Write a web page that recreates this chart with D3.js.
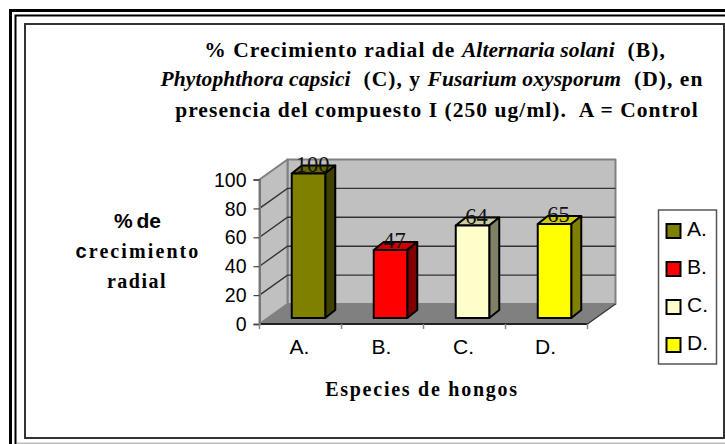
<!DOCTYPE html>
<html><head><meta charset="utf-8">
<style>
html,body{margin:0;padding:0;background:#fff;overflow:hidden}
svg{display:block}
.ser{font-family:"Liberation Serif",serif}
.san{font-family:"Liberation Sans",Arial,sans-serif}
</style>
<script src="https://cdnjs.cloudflare.com/ajax/libs/d3/7.8.5/d3.min.js"></script>
</head><body>
<script>
const categories = ["A.","B.","C.","D."];
const values = [100,47,64,65];
const yTicks = [0,20,40,60,80,100];
const frontColors = ["#808000","#ff0000","#ffffcc","#ffff00"];
const topColors = ["#666600","#cc0000","#cccca3","#cccc00"];
const sideColors = ["#404000","#800000","#808066","#808000"];
const titleLines = [
  [["% ",0],["Crecimiento radial de ",0],["Alternaria solani",1],["  (B),",0]],
  [["Phytophthora capsici",1],["  (C), y ",0],["Fusarium oxysporum",1],["  (D), en",0]],
  [["presencia del compuesto I (250 ug/ml).  A = Control",0]]
];
const yTitle = ["% de","crecimiento","radial"];
const xTitle = "Especies de hongos";

const W=725,H=444;
const svg=d3.select("body").append("svg").attr("width",W).attr("height",H);

// frame
function rect(x0,y0,x1,y1,c,w){svg.append("rect").attr("x",x0).attr("y",y0).attr("width",x1-x0).attr("height",y1-y0).attr("fill","none").attr("stroke",c).attr("stroke-width",w);}
rect(10.5,10.5,800,800,"#000",3);
rect(15.5,15.5,800,800,"#000",2);
svg.append("line").attr("x1",17).attr("x2",W).attr("y1",443.5).attr("y2",443.5).attr("stroke","#bbb").attr("stroke-width",2);
rect(25,24,724,438,"#333",2);

// scales
const x=d3.scaleBand().domain(categories).range([259.5,587.5]);
const y=d3.scaleLinear().domain([0,100]).range([324,179.5]);
const dx=28,dy=-20;
const g=svg.append("g");
const poly=(pts,fill,stroke,sw)=>g.append("polygon").attr("points",pts.map(p=>p.join(",")).join(" ")).attr("fill",fill).attr("stroke",stroke||"none").attr("stroke-width",sw||0).attr("stroke-linejoin","round");
const xL=x.range()[0],xR=x.range()[1],y0=y(0),y100=y(100);

// walls
poly([[xL+dx,y100+dy],[xR+dx,y100+dy],[xR+dx,y0+dy],[xL+dx,y0+dy]],"#c0c0c0","#808080",2);
poly([[xL,y100],[xL+dx,y100+dy],[xL+dx,y0+dy],[xL,y0]],"#c0c0c0","#808080",2);
poly([[xL,y0],[xL+dx,y0+dy],[xR+dx,y0+dy],[xR,y0]],"#808080","none");
// grid
yTicks.filter(d=>d>0&&d<100).forEach(d=>{
  g.append("path").attr("d",`M${xL},${y(d)}L${xL+dx},${y(d)+dy}L${xR+dx},${y(d)+dy}`).attr("fill","none").attr("stroke","#333").attr("stroke-width",1.4);
});
g.append("line").attr("x1",xR).attr("y1",y0).attr("x2",xR+dx).attr("y2",y0+dy).attr("stroke","#333").attr("stroke-width",1.2);
g.append("line").attr("x1",xL).attr("y1",y0).attr("x2",xR).attr("y2",y0).attr("stroke","#222").attr("stroke-width",2);

// axes
const ya=svg.append("g").attr("transform",`translate(${xL},0)`).call(d3.axisLeft(y).tickValues(yTicks).tickSize(6).tickPadding(7));
ya.select(".domain").attr("stroke","#777").attr("stroke-width",2);
ya.selectAll("line").attr("stroke","#444").attr("stroke-width",1.2);
ya.selectAll("text").attr("font-family","Liberation Sans").attr("font-size",19.5).attr("fill","#000").attr("dy","0.34em");
const xa=svg.append("g").attr("transform",`translate(0,${y0})`).call(d3.axisBottom(x).tickSize(0).tickPadding(15));
xa.select(".domain").remove();
xa.selectAll("text").attr("font-family","Liberation Sans").attr("font-size",21).attr("fill","#000").attr("dx",-1);
categories.concat("end").forEach((c,i)=>{
  const px=xL+i*x.step();
  svg.append("line").attr("x1",px).attr("x2",px).attr("y1",y0).attr("y2",y0+5).attr("stroke","#888").attr("stroke-width",1.5);
});

// bars
const bw=33.5,off=8,fy=-6,sx=10,sy=-8;
const bars=svg.append("g").attr("stroke-linejoin","round");
categories.forEach((c,i)=>{
  const cx=x(c)+x.bandwidth()/2+off, l=cx-bw/2, r=cx+bw/2, b=y0+fy, t=y(values[i])+fy;
  const p=(pts,f)=>bars.append("polygon").attr("points",pts.map(q=>q.join(",")).join(" ")).attr("fill",f).attr("stroke","#000").attr("stroke-width",2);
  p([[l,t],[l+sx,t+sy],[r+sx,t+sy],[r,t]],topColors[i]);
  p([[r,t],[r+sx,t+sy],[r+sx,b+sy],[r,b]],sideColors[i]);
  p([[l,t],[r,t],[r,b],[l,b]],frontColors[i]);
  svg.append("text").attr("class","ser").attr("x",cx+4).attr("y",t-2).attr("text-anchor","middle").attr("font-size",22.5).attr("fill","#111").text(values[i]);
});

// title
const titleY=[57,86,117];
const titleX=[435,432,437];
titleLines.forEach((ln,i)=>{
  const t=svg.append("text").attr("class","ser").attr("x",titleX[i]).attr("y",titleY[i]).attr("text-anchor","middle")
    .attr("font-size",21.5).attr("font-weight","bold").style("white-space","pre");
  ln.forEach(s=>t.append("tspan").attr("font-style",s[1]?"italic":"normal").attr("letter-spacing",s[1]?0.1:1.05).text(s[0]));
});

// y title
const yt=[228,258,288];
svg.append("text").attr("x",137.5).attr("y",yt[0]).attr("text-anchor","middle").attr("font-family","Liberation Sans").attr("font-weight","bold").attr("font-size",21).attr("word-spacing",-2).text(yTitle[0]);
const t1=svg.append("text").attr("class","ser").attr("x",138).attr("y",yt[1]).attr("text-anchor","middle").attr("font-weight","bold").attr("font-size",20).attr("letter-spacing",2.1);
t1.append("tspan").attr("font-family","Liberation Sans").text(yTitle[1].slice(0,1));
t1.append("tspan").text(yTitle[1].slice(1));
svg.append("text").attr("class","ser").attr("x",137).attr("y",yt[2]).attr("text-anchor","middle").attr("font-weight","bold").attr("font-size",20).attr("letter-spacing",1.5).text(yTitle[2]);

// x title
svg.append("text").attr("class","ser").attr("x",422).attr("y",396).attr("text-anchor","middle").attr("font-weight","bold").attr("font-size",20).attr("letter-spacing",1.75).text(xTitle);

// legend
svg.append("rect").attr("x",658.5).attr("y",210).attr("width",58).attr("height",154).attr("fill","#fff").attr("stroke","#555").attr("stroke-width",1.5);
const legendY=d3.scalePoint().domain(categories).range([231,345]);
categories.forEach((c,i)=>{
  svg.append("rect").attr("x",666.5).attr("y",legendY(c)-7).attr("width",14).attr("height",14).attr("fill",frontColors[i]).attr("stroke","#000").attr("stroke-width",2);
  svg.append("text").attr("class","san").attr("x",687).attr("y",legendY(c)+4.5).attr("font-size",21).attr("fill","#000").text(c);
});
</script>
</body></html>
